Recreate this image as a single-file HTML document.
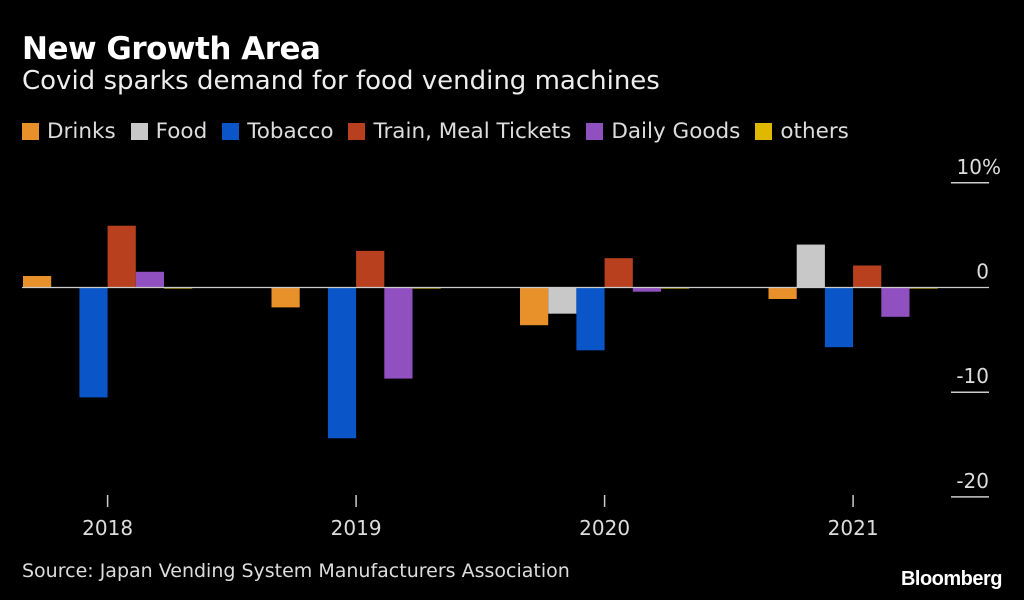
<!DOCTYPE html>
<html><head><meta charset="utf-8"><style>
body{margin:0;background:#000;width:1024px;height:600px;overflow:hidden;font-family:"Liberation Sans","DejaVu Sans",sans-serif;color:#fff}
.t{position:absolute;left:22px;top:31px;font-size:31px;font-weight:bold;font-family:"DejaVu Sans",sans-serif;letter-spacing:-0.5px}
.s{position:absolute;left:22px;top:66px;font-size:26px;font-family:"DejaVu Sans",sans-serif;color:#eee}
.lg{position:absolute;left:22px;top:119px;font-size:21.5px;font-family:"DejaVu Sans",sans-serif;color:#ddd;display:flex;gap:0}
.lg span{display:inline-flex;align-items:center;margin-right:15px}
.lg i{display:inline-block;width:17px;height:17px;margin-right:8px}
.src{position:absolute;left:22px;top:560px;font-size:19px;font-family:"DejaVu Sans",sans-serif;color:#ddd}
.bb{position:absolute;right:22px;top:568px;font-size:20px;font-weight:bold;letter-spacing:-0.5px}
</style></head><body>
<div class="t">New Growth Area</div>
<div class="s">Covid sparks demand for food vending machines</div>
<div class="lg">
<span><i style="background:#e8912a"></i>Drinks</span>
<span><i style="background:#c8c8c8"></i>Food</span>
<span><i style="background:#0a55c8"></i>Tobacco</span>
<span><i style="background:#b8401e"></i>Train, Meal Tickets</span>
<span><i style="background:#9050c0"></i>Daily Goods</span>
<span><i style="background:#e0b800"></i>others</span>
</div>
<svg id="c" width="1024" height="600" style="position:absolute;left:0;top:0"></svg>
<div class="src">Source: Japan Vending System Manufacturers Association</div>
<div class="bb">Bloomberg</div>
<script>
const years=["2018","2019","2020","2021"];
const drinks=[1.1,-1.9,-3.6,-1.1];
const food=[0,0,-2.5,4.1];
const tobacco=[-10.5,-14.4,-6.0,-5.7];
const train=[5.9,3.5,2.8,2.1];
const daily=[1.5,-8.7,-0.4,-2.8];
const others=[-0.1,-0.1,-0.1,-0.1];
const yTicks=[10,0,-10,-20];
const series=[[drinks,"#e8912a","drinks"],[food,"#c8c8c8","food"],[tobacco,"#0a55c8","tobacco"],[train,"#b8401e","train"],[daily,"#9050c0","daily-goods"],[others,"#e0b800","others"]];
const svg=document.getElementById('c'),NS="http://www.w3.org/2000/svg";
const y=v=>287.5-v*10.47;
const gx=i=>23+i*248.5;
const bw=28.2;
function mk(t,a){const e=document.createElementNS(NS,t);for(const k in a)e.setAttribute(k,a[k]);svg.appendChild(e);return e;}
series.forEach(([arr,col,nm],s)=>{arr.forEach((v,i)=>{
 const h=Math.max(Math.abs(y(v)-y(0)),v!==0?1:0);
 const r=mk('rect',{x:gx(i)+s*bw,y:Math.min(y(v),y(0)),width:bw,height:h,fill:col});
 
 
});});
const z=mk('line',{x1:22,x2:989,y1:y(0),y2:y(0),stroke:'#ccc','stroke-width':1.2});


yTicks.forEach(v=>{
 if(v!==0){const l=mk('line',{x1:951,x2:989,y1:y(v),y2:y(v),stroke:'#ccc','stroke-width':1.5});
 
 }
 const t=mk('text',{x:v===10?1001:989,y:y(v)-9,'text-anchor':'end',fill:'#ddd','font-size':20,'font-family':'DejaVu Sans,sans-serif'});
 t.textContent=v===10?'10%':String(v);
 
 
});
years.forEach((yr,i)=>{
 const cx=gx(i)+3*bw;
 const l=mk('line',{x1:cx,x2:cx,y1:495,y2:507,stroke:'#ccc','stroke-width':1.5});
 
 
 const t=mk('text',{x:cx,y:535,'text-anchor':'middle',fill:'#ddd','font-size':20,'font-family':'DejaVu Sans,sans-serif'});
 t.textContent=yr;
 
 
});
</script>
</body></html>
